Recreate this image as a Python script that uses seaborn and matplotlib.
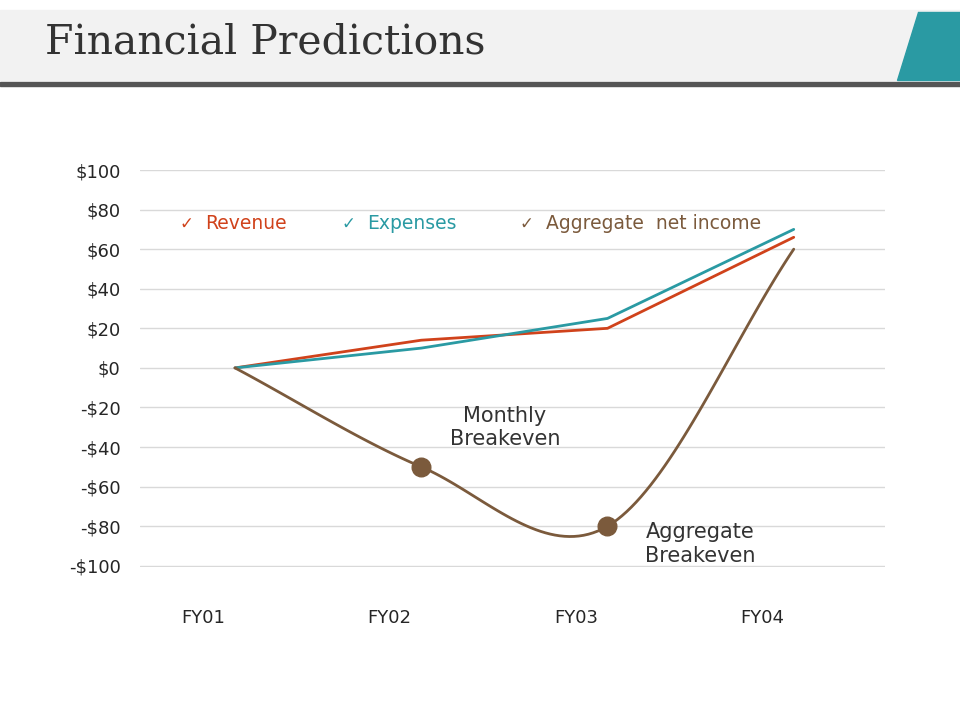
import numpy as np
import matplotlib.pyplot as plt
import matplotlib.patches as mpatches
import seaborn as sns

years = ["FY01", "FY02", "FY03", "FY04"]
revenue = [0, 14, 20, 66]
expenses = [0, 10, 25, 70]
net_income = [0, -50, -80, 60]

c_rev = "#d0421b"
c_exp = "#2a9aa3"
c_net = "#7b5a3c"

sns.set_style("white")
fig = plt.figure(figsize=(9.6, 7.2), dpi=100)

# header band
fig.patches.append(mpatches.Rectangle((0, 1 - 80 / 720), 1, 70 / 720, transform=fig.transFigure,
                                      color="#f2f2f2", zorder=0))
fig.patches.append(mpatches.Rectangle((0, 1 - 86 / 720), 1, 4 / 720, transform=fig.transFigure,
                                      color="#555555", zorder=1))
fig.patches.append(mpatches.Polygon([(918 / 960, 1 - 12 / 720), (1, 1 - 12 / 720), (1, 1 - 80 / 720),
                                     (897 / 960, 1 - 80 / 720)], closed=True, transform=fig.transFigure,
                                    color="#2a9aa3", zorder=1))
fig.text(45 / 960, 1 - 43 / 720, "Financial Predictions", fontsize=29.5, family="DejaVu Serif",
         color="#333333", va="center")

ax = fig.add_axes([140 / 960, 1 - 567 / 720, 745 / 960, 397 / 720])
x = np.arange(len(years))

sns.lineplot(x=x, y=revenue, ax=ax, color=c_rev, lw=2)
sns.lineplot(x=x, y=expenses, ax=ax, color=c_exp, lw=2)


def catmull(xs, ys, n=40):
    px = np.r_[2 * xs[0] - xs[1], xs, 2 * xs[-1] - xs[-2]]
    py = np.r_[2 * ys[0] - ys[1], ys, 2 * ys[-1] - ys[-2]]
    ox, oy = [], []
    for i in range(1, len(px) - 2):
        t = np.linspace(0, 1, n)
        for p, o in ((px, ox), (py, oy)):
            p0, p1, p2, p3 = p[i - 1:i + 3]
            o.extend(0.5 * (2 * p1 + (-p0 + p2) * t + (2 * p0 - 5 * p1 + 4 * p2 - p3) * t ** 2
                            + (-p0 + 3 * p1 - 3 * p2 + p3) * t ** 3))
    return np.array(ox), np.array(oy)


sx, sy = catmull(x.astype(float), np.array(net_income, float))
ax.plot(sx, sy, color=c_net, lw=2)
ax.scatter(x[1:3], net_income[1:3], s=180, color=c_net, zorder=3)

ax.set_xlim(-0.51, 3.49)
ax.set_ylim(-100.6, 100)
ax.set_yticks(range(-100, 101, 20))
ax.set_yticklabels([f"${v}" if v >= 0 else f"-${-v}" for v in range(-100, 101, 20)], fontsize=13)
ax.set_xticks(x - 0.17)
ax.set_xticklabels(years, fontsize=13)
ax.tick_params(axis="x", pad=30, length=0)
ax.tick_params(axis="y", length=0, pad=14)
ax.grid(axis="y", color="#d9d9d9", lw=1)
for s in ax.spines.values():
    s.set_visible(False)

ax.text(1.45, -30, "Monthly\nBreakeven", fontsize=15, ha="center", va="center", color="#333333")
ax.text(2.5, -89, "Aggregate\nBreakeven", fontsize=15, ha="center", va="center", color="#333333")

for xp, lab, c in [(-0.3, "Revenue", c_rev), (0.57, "Expenses", c_exp), (1.53, "Aggregate  net income", c_net)]:
    ax.text(xp, 73, "\u2713", color=c, fontsize=12, va="center")
    ax.text(xp + 0.14, 73, lab, color=c, fontsize=13.5, va="center")

fig.savefig("out.png", dpi=100)
